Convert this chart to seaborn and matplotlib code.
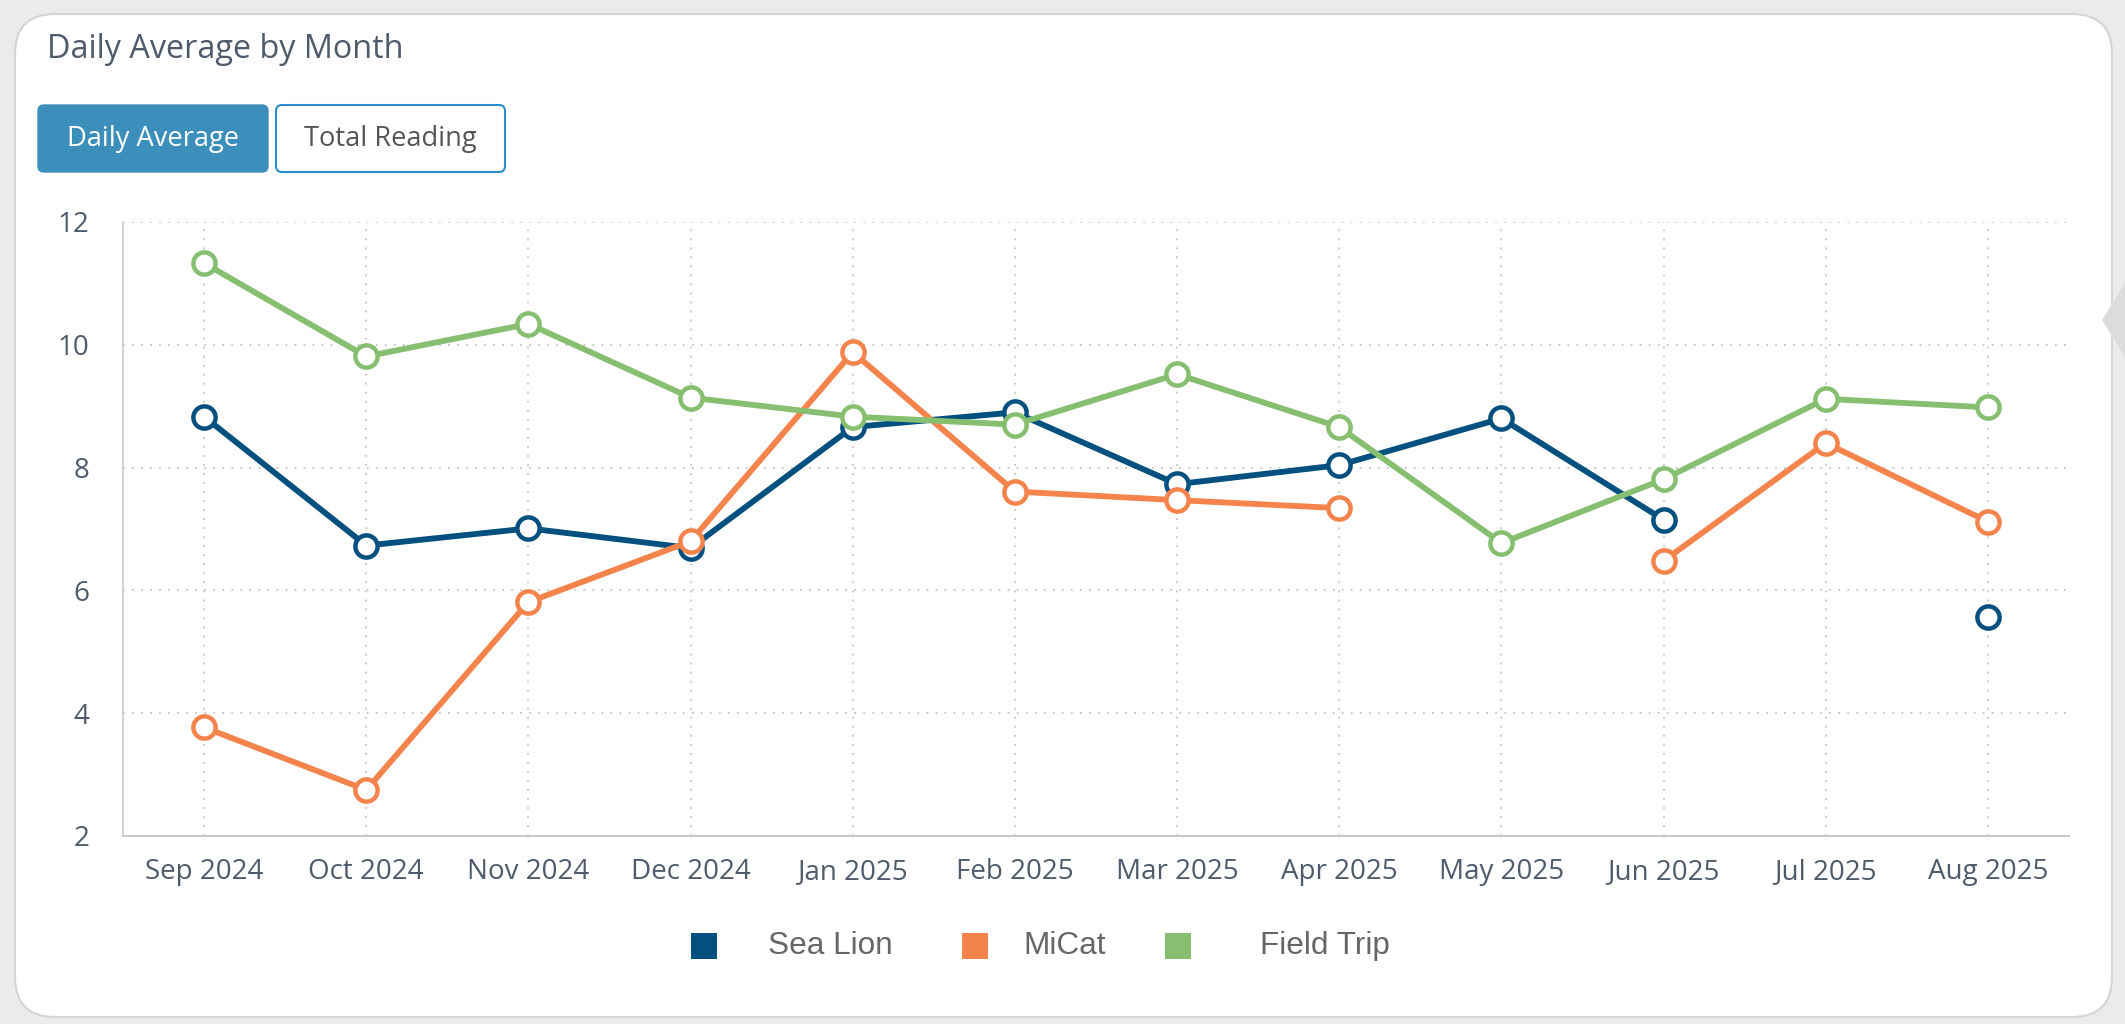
import numpy as np
import pandas as pd
import matplotlib
matplotlib.use("Agg")
import matplotlib.pyplot as plt
import seaborn as sns
from matplotlib.patches import FancyBboxPatch, Polygon, Rectangle
from matplotlib.transforms import IdentityTransform

# ---------------- data ----------------
months = ["Sep 2024", "Oct 2024", "Nov 2024", "Dec 2024", "Jan 2025", "Feb 2025",
          "Mar 2025", "Apr 2025", "May 2025", "Jun 2025", "Jul 2025", "Aug 2025"]
sea_lion = [8.83, 6.73, 7.01, 6.69, 8.66, 8.90, 7.73, 8.04, 8.80, 7.15, np.nan, 5.57]
micat = [3.77, 2.75, 5.81, 6.80, 9.88, 7.61, 7.47, 7.34, np.nan, 6.48, 8.40, 7.12]
field_trip = [11.33, 9.81, 10.34, 9.14, 8.83, 8.70, 9.52, 8.66, 6.77, 7.81, 9.12, 8.98]
series_names = ["Sea Lion", "MiCat", "Field Trip"]
series_colors = ["#02507f", "#f5844c", "#86bf6f"]
y_ticks = [2, 4, 6, 8, 10, 12]
title_text = "Daily Average by Month"
button_labels = ["Daily Average", "Total Reading"]

# ---------------- theme ----------------
sns.set_theme(style="white")
plt.rcParams["font.family"] = ["Open Sans", "DejaVu Sans"]

W, H = 2125, 1024
fig = plt.figure(figsize=(W / 100, H / 100), dpi=100, facecolor="#ebebeb")
ID = IdentityTransform()


def disp(y_top):
    return H - y_top


# card background
card = FancyBboxPatch((15, disp(1017)), 2112 - 15, 1017 - 14,
                      boxstyle="round,pad=0,rounding_size=40",
                      facecolor="white", edgecolor="#d4d4d4", linewidth=1.5,
                      transform=ID, zorder=-10)
fig.add_artist(card)

# side arrow
tri = Polygon([(2102, disp(320)), (2125, disp(283)), (2125, disp(357))],
              closed=True, facecolor="#dcdcdc", edgecolor="none",
              transform=ID, zorder=-9)
fig.add_artist(tri)

# title
fig.text(47 / W, 1 - 50 / H, title_text, fontsize=23.3, color="#4f5b6b",
         ha="left", va="center")

# buttons
b1 = FancyBboxPatch((38, disp(172)), 268 - 38, 172 - 105,
                    boxstyle="round,pad=0,rounding_size=6",
                    facecolor="#3d8fbb", edgecolor="#3d8fbb", linewidth=1,
                    transform=ID, zorder=-5)
b2 = FancyBboxPatch((276, disp(172)), 505 - 276, 172 - 105,
                    boxstyle="round,pad=0,rounding_size=6",
                    facecolor="white", edgecolor="#2a8ccb", linewidth=1.5,
                    transform=ID, zorder=-5)
fig.add_artist(b1)
fig.add_artist(b2)
fig.text(153 / W, 1 - 139 / H, button_labels[0], fontsize=19.6, color="white",
         ha="center", va="center")
fig.text(390 / W, 1 - 139 / H, button_labels[1], fontsize=19.6, color="#555555",
         ha="center", va="center")

# ---------------- axes ----------------
ax = fig.add_axes([123 / W, 1 - 836 / H, (2069 - 123) / W, (836 - 222) / H])
ax.patch.set_visible(False)

x_idx = np.arange(len(months))
for name, vals, col in zip(series_names, [sea_lion, micat, field_trip], series_colors):
    s = pd.Series(vals, dtype=float)
    seg = s.isna().cumsum()
    df = pd.DataFrame({"x": x_idx, "y": s, "seg": seg}).dropna()
    sns.lineplot(data=df, x="x", y="y", units="seg", estimator=None, ax=ax,
                 color=col, linewidth=4.2, marker="o", markersize=16,
                 markerfacecolor="white", markeredgecolor=col,
                 markeredgewidth=3.2, clip_on=False, sort=False, legend=False)

ax.set_xlim(-0.5, 11.5)
ax.set_ylim(2, 12)
ax.set_yticks(y_ticks)
ax.set_yticklabels([str(t) for t in y_ticks])
ax.set_xticks(x_idx)
ax.set_xticklabels(months)
ax.set_xlabel("")
ax.set_ylabel("")

ax.set_axisbelow(True)
ax.grid(True, linestyle=(0, (1, 4)), color="#c4c4c4", linewidth=1.3)
sns.despine(ax=ax)
ax.spines["left"].set_color("#d0d3da")
ax.spines["left"].set_linewidth(1.5)
ax.spines["bottom"].set_color("#c9c9c9")
ax.spines["bottom"].set_linewidth(1.5)

ax.tick_params(axis="x", length=0, pad=16, labelsize=20, labelcolor="#4f5b6b")
ax.tick_params(axis="y", length=0, pad=24, labelsize=20, labelcolor="#4f5b6b")

# legend (square swatches + labels, laid out like the reference)
legend_sq_x = [704, 975, 1178]
legend_txt_x = [768, 1023, 1260]
legend_y = 946
sq = 26
for name, col, sx, tx in zip(series_names, series_colors, legend_sq_x, legend_txt_x):
    fig.add_artist(Rectangle((sx - sq / 2, disp(legend_y) - sq / 2), sq, sq,
                             facecolor=col, edgecolor="none", transform=ID))
    fig.text(tx / W, 1 - legend_y / H, name, fontsize=22.7, color="#666666",
             family="Liberation Sans", ha="left", va="center")

fig.savefig("out.png", dpi=100, facecolor=fig.get_facecolor())
